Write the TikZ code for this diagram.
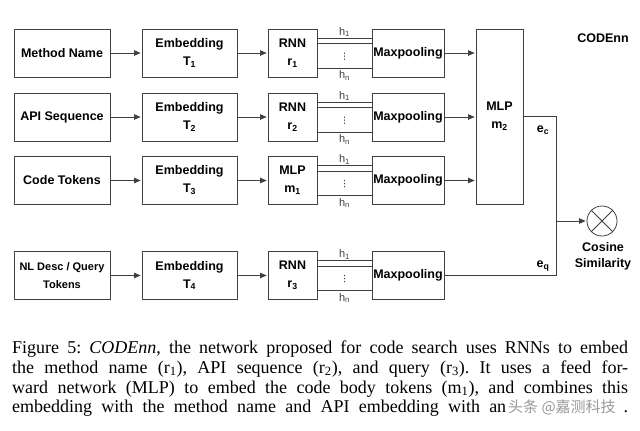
\documentclass[tikz,border=0pt]{standalone}
\usepackage{fontspec}
\setmainfont{Liberation Serif}
\newfontfamily\hv{Liberation Sans}
\newfontfamily\cjk{Noto Sans CJK SC}
\usetikzlibrary{arrows.meta,calc}
\definecolor{ln}{HTML}{404040}
\begin{document}
\frenchspacing
\begin{tikzpicture}[x=1pt,y=-1pt,
  box/.style={draw=ln, line width=0.8pt, align=center, inner sep=0pt,
    font=\hv\bfseries\fontsize{12.5}{18}\selectfont, minimum height=48pt},
  inbox/.style={box, minimum width=96pt},
  embbox/.style={box, minimum width=95pt},
  rnnbox/.style={box, minimum width=49pt},
  mpbox/.style={box, minimum width=72pt},
  arr/.style={draw=ln, line width=0.8pt, -{Triangle[length=6.5pt,width=5.5pt]}, shorten >=1pt},
  hline/.style={draw=ln, line width=0.8pt},
  hlab/.style={font=\hv\fontsize{11}{11}\selectfont, text=ln, inner sep=0pt},
  lbl/.style={font=\hv\bfseries\fontsize{12.5}{16}\selectfont, inner sep=0pt, align=center},
  captxt/.style={font=\fontsize{18}{20}\selectfont, inner sep=0pt, anchor=base west}]
\useasboundingbox (0,0) rectangle (640,431);
\fill[white] (0,0) rectangle (640,431);

% rows
\foreach \i/\y/\inp/\emb/\rn in {
  1/53/{Method Name}/{Embedding\\T\textsubscript{1}}/{RNN\\r\textsubscript{1}},
  2/117/{API Sequence}/{Embedding\\T\textsubscript{2}}/{RNN\\r\textsubscript{2}},
  3/180.5/{Code Tokens}/{Embedding\\T\textsubscript{3}}/{MLP\\m\textsubscript{1}},
  4/275.5/{\fontsize{11}{14}\selectfont NL Desc / Query\\\fontsize{11}{14}\selectfont Tokens}/{Embedding\\T\textsubscript{4}}/{RNN\\r\textsubscript{3}}}{
  \node[inbox] (in\i) at (62,\y) {\inp};
  \node[embbox] (emb\i) at (189.5,\y) {\emb};
  \node[rnnbox] (rnn\i) at (292.5,\y) {\rn};
  \node[mpbox] (mp\i) at (408,\y) {Maxpooling};
  \draw[arr] (in\i) -- (emb\i);
  \draw[arr] (emb\i) -- (rnn\i);
  \draw[hline] ([yshift=-9.5pt]rnn\i.north east) -- ([yshift=-9.5pt]mp\i.north west);
  \draw[hline] ([yshift=-15pt]rnn\i.north east) -- ([yshift=-15pt]mp\i.north west);
  \draw[hline] ([yshift=-39.5pt]rnn\i.north east) -- ([yshift=-39.5pt]mp\i.north west);
  \coordinate (m\i) at ($(rnn\i.north east)!0.5!(mp\i.north west)$);
  \node[hlab] (h1\i) at ($(m\i)+(0,3.5)$) {h\textsubscript{1}};
  \node[hlab] (hn\i) at ($(m\i)+(0,47)$) {h\textsubscript{n}};
  \foreach \dy in {24.5,27.5,30.5}{\fill[ln] ($(m\i)+(0,\dy)$) circle (0.7pt);}
}

\node[box, minimum width=47pt, minimum height=175pt] (mlp) at (499.5,116.5) {MLP\\m\textsubscript{2}};
\foreach \i in {1,2,3}{\draw[arr] (mp\i) -- (mlp.west |- mp\i);}

\coordinate (jc) at (556,116.5);
\coordinate (jm) at (556,221);
\coordinate (jq) at (556,275.5);
\draw[hline] (mlp.east) -- (jc) -- (jq) -- (mp4.east);
\node[draw=ln, line width=0.8pt, circle, minimum size=30pt, inner sep=0pt] (cos) at (602,221) {};
\draw[hline] (cos.north east) -- (cos.south west);
\draw[hline] (cos.north west) -- (cos.south east);
\draw[arr] (jm) -- (cos);
\node[lbl] (coslab) at (603,256.5) {Cosine\\Similarity};
\node[lbl] (ec) at (543,130) {e\textsubscript{c}};
\node[lbl] (eq) at (543,266) {e\textsubscript{q}};
\node[lbl] (title) at (603,38) {CODEnn};

% caption
\node[captxt] (c1) at (12,353) {\makebox[616pt][s]{Figure 5: \textit{CODEnn}, the network proposed for code search uses RNNs to embed}};
\node[captxt] (c2) at (12,373) {\makebox[616pt][s]{the method name (r\textsubscript{1}), API sequence (r\textsubscript{2}), and query (r\textsubscript{3}). It uses a feed for-}};
\node[captxt] (c3) at (12,393) {\makebox[616pt][s]{ward network (MLP) to embed the code body tokens (m\textsubscript{1}), and combines this}};
\node[captxt] (c4) at (12,412) {\makebox[616pt][l]{\makebox[494pt][s]{embedding with the method name and API embedding with an}\hspace{2pt}{\cjk\fontsize{15}{15}\selectfont\color{gray!80}头条 @嘉测科技}\hfill.}};
\end{tikzpicture}
\end{document}
